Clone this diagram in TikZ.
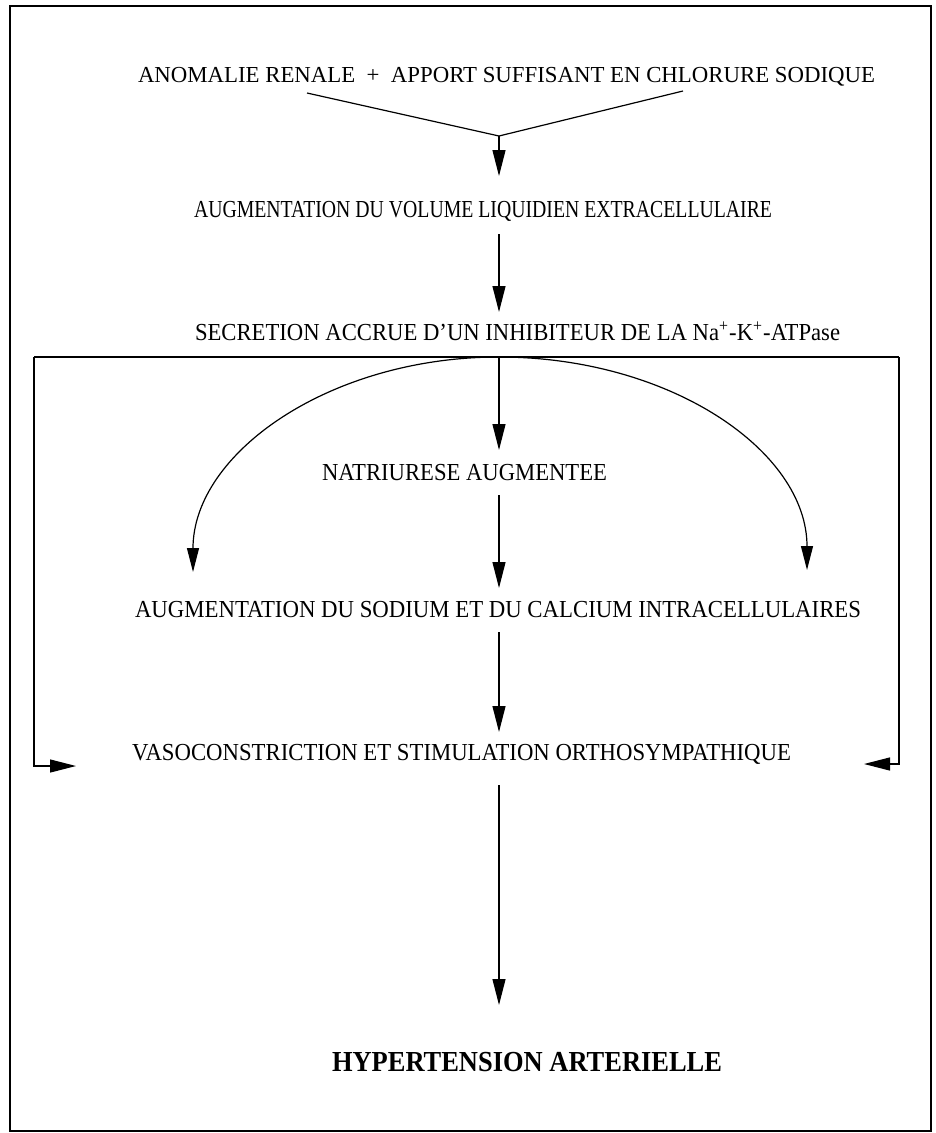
\documentclass[tikz,border=0pt]{standalone}
\usepackage{fontspec}
\setmainfont{Liberation Serif}
\usetikzlibrary{arrows.meta}
\newcommand\fitbox[3]{\resizebox{#1pt}{#2pt}{\smash{#3}\vphantom{H}}}
\begin{document}
\begin{tikzpicture}[x=1pt,y=-1pt,line width=1.2pt,
  txt/.style={anchor=base west,inner sep=0pt,outer sep=0pt},
  arr/.style={-{Triangle[length=26pt,width=13pt]}},
  carr/.style={-{Triangle[length=24pt,width=12pt]}}]
\useasboundingbox (0,0) rectangle (936,1133);
\draw[line width=1.3pt] (10,6) rectangle (931,1131);
% texts
\node[txt] (t0) at (138,82) {\fitbox{737}{15}{ANOMALIE RENALE \ + \ APPORT SUFFISANT EN CHLORURE SODIQUE}};
\node[txt] (t1) at (194,217) {\fitbox{578}{16}{AUGMENTATION DU VOLUME LIQUIDIEN EXTRACELLULAIRE}};
\node[txt] (t2) at (195,340) {\fitbox{645}{16}{SECRETION ACCRUE D'UN INHIBITEUR DE LA Na\textsuperscript{+}-K\textsuperscript{+}-ATPase}};
\node[txt] (t3) at (322,480) {\fitbox{285}{16}{NATRIURESE AUGMENTEE}};
\node[txt] (t4) at (135,617) {\fitbox{726}{16}{AUGMENTATION DU SODIUM ET DU CALCIUM INTRACELLULAIRES}};
\node[txt] (t5) at (132,760) {\fitbox{659}{16}{VASOCONSTRICTION ET STIMULATION ORTHOSYMPATHIQUE}};
\node[txt] (t6) at (332,1071) {\fitbox{390}{19}{\textbf{HYPERTENSION ARTERIELLE}}};
% connector points
\coordinate (vL) at (307,93);
\coordinate (vR) at (683,91);
\coordinate (vX) at (499,136);
\coordinate (a1) at (499,176);
\coordinate (b1) at (499,234);
\coordinate (b2) at (499,312);
\coordinate (top) at (499,357);
\coordinate (c2) at (499,450);
\coordinate (d1) at (499,495);
\coordinate (d2) at (499,588);
\coordinate (e1) at (499,632);
\coordinate (e2) at (499,732);
\coordinate (f1) at (499,785);
\coordinate (f2) at (499,1005);
\coordinate (bl) at (34,357);
\coordinate (br) at (899,357);
\coordinate (bl2) at (34,766);
\coordinate (bl3) at (76,766);
\coordinate (br2) at (899,764);
\coordinate (br3) at (864,764);
\coordinate (cl) at (193,572);
\coordinate (cr) at (807,570);
% connectors
\draw (vL) -- (vX) -- (vR);
\draw[arr] (vX) -- (a1);
\draw[arr] (b1) -- (b2);
\draw (bl) -- (br);
\draw[arr] (bl) -- (bl2) -- (bl3);
\draw[arr] (br) -- (br2) -- (br3);
\draw[arr] (top) -- (c2);
\draw[carr] (top) .. controls (330,357) and (193,453) .. (cl);
\draw[carr] (top) .. controls (670,357) and (807,451) .. (cr);
\draw[arr] (d1) -- (d2);
\draw[arr] (e1) -- (e2);
\draw[arr] (f1) -- (f2);
\end{tikzpicture}
\end{document}
